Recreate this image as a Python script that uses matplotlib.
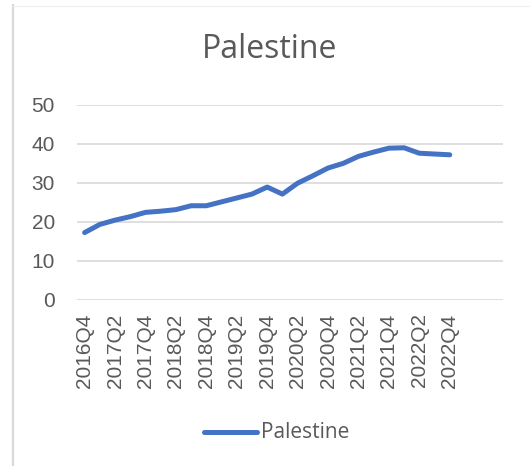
import matplotlib
matplotlib.use("Agg")
import matplotlib.pyplot as plt
from matplotlib.lines import Line2D

# Quarterly series, 2016Q4 .. 2022Q4
quarters = ["2016Q4", "2017Q1", "2017Q2", "2017Q3", "2017Q4",
            "2018Q1", "2018Q2", "2018Q3", "2018Q4",
            "2019Q1", "2019Q2", "2019Q3", "2019Q4",
            "2020Q1", "2020Q2", "2020Q3", "2020Q4",
            "2021Q1", "2021Q2", "2021Q3", "2021Q4",
            "2022Q1", "2022Q2", "2022Q3", "2022Q4"]
values = [17.2, 19.3, 20.4, 21.3, 22.4, 22.7, 23.1, 24.1, 24.1,
          25.1, 26.1, 27.1, 28.9, 27.1, 29.9, 31.8, 33.8, 35.0,
          36.8, 37.9, 38.9, 39.0, 37.6, 37.4, 37.2]
# the category axis has three trailing empty slots
n_slots = len(quarters) + 3
y_ticks = [0, 10, 20, 30, 40, 50]

series_name = "Palestine"
line_color = "#4472C4"
text_color = "#595959"
grid_color = "#D9D9D9"
tick_font = ["Liberation Sans", "DejaVu Sans"]
label_font = ["Open Sans", "DejaVu Sans"]

W, H = 530, 466
fig = plt.figure(figsize=(W / 100, H / 100), dpi=100)
fig.patch.set_facecolor("white")

# chart frame edges
fig.add_artist(Line2D([12.5 / W, 12.5 / W], [0, 1 - 5 / H], transform=fig.transFigure,
                      color="#D9D9D9", lw=1.6))
fig.add_artist(Line2D([13 / W, 1], [1 - 6 / H, 1 - 6 / H], transform=fig.transFigure,
                      color="#EEEEEE", lw=0.8))

ax = fig.add_axes([77 / W, 1 - 299.5 / H, (503 - 77) / W, (299.5 - 105) / H])
x = list(range(len(quarters)))
ax.plot(x, values, color=line_color, lw=3.6, solid_capstyle="round",
        solid_joinstyle="round", zorder=3)

ax.set_xlim(-0.5, n_slots - 0.5)
ax.set_ylim(0, 50)
ax.set_yticks(y_ticks)
ax.set_yticklabels([str(v) for v in y_ticks], fontsize=15, color=text_color,
                   family=tick_font)
ax.set_xticks(x[::2])
ax.set_xticklabels(quarters[::2], rotation=90, fontsize=15, color=text_color,
                   family=tick_font)
ax.tick_params(axis="both", length=0)
ax.tick_params(axis="y", pad=16)
ax.tick_params(axis="x", pad=10)
for s in ax.spines.values():
    s.set_visible(False)
ax.yaxis.grid(True, color=grid_color, lw=1.2)
ax.set_axisbelow(True)

fig.text(270 / W, 1 - 49 / H, series_name, ha="center", va="center",
         fontsize=23, color=text_color, family=label_font)

# legend below the axis labels
fig.add_artist(Line2D([204 / W, 257 / W], [1 - 432 / H, 1 - 432 / H],
                      transform=fig.transFigure, color=line_color, lw=3.6,
                      solid_capstyle="round"))
fig.text(261 / W, 1 - 432 / H, series_name, ha="left", va="center",
         fontsize=15, color=text_color, family=label_font)

fig.savefig("out.png", dpi=100)
